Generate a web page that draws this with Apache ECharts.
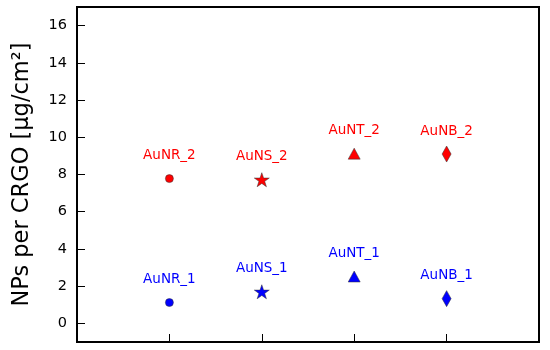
<!DOCTYPE html>
<html><head><meta charset="utf-8">
<script src="https://cdn.jsdelivr.net/npm/echarts@6/dist/echarts.min.js"></script>
<style>html,body{margin:0;padding:0;background:#fff}#c{width:550px;height:350px}</style>
</head><body><div id="c"></div>
<script>
const xPositions = [1, 2, 3, 4];
const names1 = ['AuNR_1', 'AuNS_1', 'AuNT_1', 'AuNB_1'];
const values1 = [1.12, 1.7, 2.52, 1.33];
const names2 = ['AuNR_2', 'AuNS_2', 'AuNT_2', 'AuNB_2'];
const values2 = [7.78, 7.72, 9.12, 9.1];
const yTicks = [0, 2, 4, 6, 8, 10, 12, 14, 16];

const starPath = 'path://M0,-1 L0.2245,-0.309 L0.951,-0.309 L0.363,0.118 L0.588,0.809 L0,0.382 L-0.588,0.809 L-0.363,0.118 L-0.951,-0.309 L-0.2245,-0.309 Z';
const symbols = ['circle', starPath, 'triangle', 'diamond'];
const sizes = [[8,8],[15,14],[12,11],[9,16]];

function build(names, values, color) {
  return {
    type: 'scatter',
    data: xPositions.map((x, i) => ({
      value: [x, values[i]],
      name: names[i],
      symbol: symbols[i],
      symbolSize: sizes[i]
    })),
    itemStyle: { color: color, opacity: 1, borderColor: '#333', borderWidth: 0.5 },
    label: {
      show: true, position: 'inside', offset: [0, -23],
      formatter: p => p.name, color: color,
      fontFamily: 'DejaVu Sans', fontSize: 13.5
    },
    emphasis: { disabled: true },
    animation: false
  };
}

const chart = echarts.init(document.getElementById('c'));
chart.setOption({
  animation: false,
  grid: { left: 77, right: 11, top: 7, bottom: 8, show: true, borderColor: '#000', borderWidth: 2,
          containLabel: false, outerBoundsMode: 'none' },
  xAxis: {
    type: 'value', min: 0, max: 5,
    axisLine: { show: false, onZero: false },
    axisTick: { show: true, inside: true, length: 8, customValues: xPositions, lineStyle: { color: '#000', width: 1 } },
    axisLabel: { show: false },
    splitLine: { show: false }
  },
  yAxis: {
    type: 'value', min: -1, max: 17,
    name: 'NPs per CRGO [μg/cm²]',
    nameLocation: 'middle', nameGap: 43,
    nameTextStyle: { fontFamily: 'DejaVu Sans', fontSize: 22.5, color: '#000' },
    axisLine: { show: false, onZero: false },
    axisTick: { show: true, inside: true, length: 8, customValues: yTicks, lineStyle: { color: '#000', width: 1 } },
    axisLabel: { customValues: yTicks, margin: 10, fontFamily: 'DejaVu Sans', fontSize: 14.5, color: '#000' },
    splitLine: { show: false }
  },
  series: [build(names1, values1, '#0000ff'), build(names2, values2, '#ff0000')]
});
</script></body></html>
